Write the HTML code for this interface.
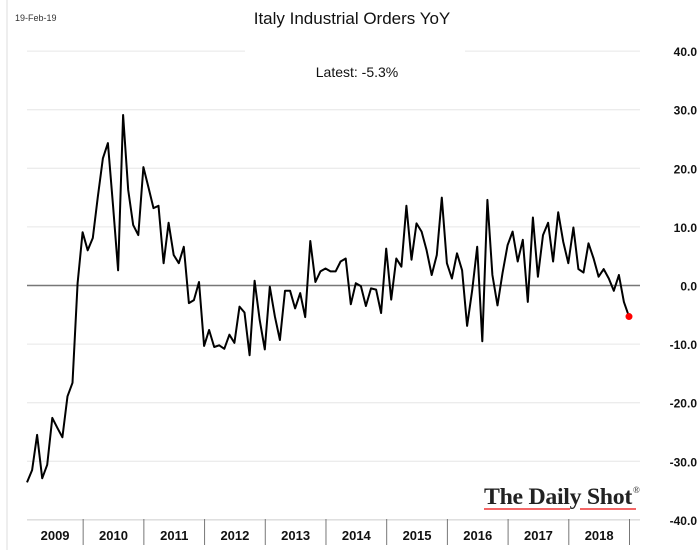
<!DOCTYPE html>
<html><head><meta charset="utf-8"><style>
html,body{margin:0;padding:0;background:#fff;}
svg{display:block;font-family:"Liberation Sans",sans-serif;}
</style></head><body>
<svg id="chart" width="700" height="550" viewBox="0 0 700 550">
<line x1="7" y1="0" x2="7" y2="550" stroke="#ddd" stroke-width="1"/>
<text x="15" y="21" font-size="9" fill="#333">19-Feb-19</text>
<text x="352" y="24" font-size="17" text-anchor="middle" fill="#111">Italy Industrial Orders YoY</text>
<text x="357" y="77" font-size="14" text-anchor="middle" fill="#111">Latest:  -5.3%</text>
<g id="grid"></g>
<g id="yticks"></g>
<g id="xaxis"></g>
<g id="series"></g>
<g>
<text x="484" y="504" font-family="Liberation Serif,serif" font-size="23" font-weight="bold" fill="#222" letter-spacing="-0.3" textLength="148" lengthAdjust="spacingAndGlyphs">The Daily Shot</text>
<text x="633" y="493" font-family="Liberation Serif,serif" font-size="9" fill="#222">®</text>
<line x1="484" y1="509" x2="570" y2="509" stroke="#e33" stroke-width="1.5"/>
<line x1="580" y1="509" x2="636" y2="509" stroke="#e33" stroke-width="1.5"/>
</g>
</svg>
<script>
const yTicks = [40, 30, 20, 10, 0, -10, -20, -30, -40];
const tickLabels = ["40.0","30.0","20.0","10.0","0.0","-10.0","-20.0","-30.0","-40.0"];
const years = ["2009","2010","2011","2012","2013","2014","2015","2016","2017","2018"];
const values = [-33.6,-31.5,-25.5,-32.9,-30.6,-22.6,-24.3,-25.9,-18.9,-16.6,0.4,9.1,6.0,8.1,15.1,21.7,24.3,13.7,2.6,29.1,16.3,10.3,8.6,20.2,16.8,13.2,13.6,3.8,10.7,5.2,3.8,6.6,-3.0,-2.5,0.6,-10.3,-7.6,-10.5,-10.2,
-10.8,-8.4,-9.8,-3.6,
-4.6,-11.9,0.8,-5.9,-10.9,-0.2,-5.3,-9.3,-0.9,-0.9,-3.9,-1.3,-5.4,7.6,0.6,2.4,2.9,2.4,2.4,4.1,4.6,-3.2,0.4,-0.1,-3.5,-0.5,-0.7,-4.7,6.3,-2.4,4.6,3.2,13.6,4.4,10.6,9.2,6.0,
1.8,5.2,15.0,3.8,1.2,5.5,2.6,-6.9,-0.8,6.6,-9.5,14.6,1.8,-3.4,2.1,6.9,9.2,4.1,7.8,-2.8,11.6,1.5,8.6,10.7,4.1,12.5,7.5,3.8,9.9,2.8,2.2,7.2,4.6,1.5,2.8,1.2,-0.9,1.8,-2.8,-5.3];

const NS="http://www.w3.org/2000/svg";
const X0=27, X1=629, Y0=285.5, PER=5.86;
function xs(m){return X0+m*(X1-X0)/(values.length-1);}
function ys(v){return Y0-v*PER;}
function mk(tag,attrs,parent){const e=document.createElementNS(NS,tag);for(const k in attrs)e.setAttribute(k,attrs[k]);parent.appendChild(e);return e;}
const grid=document.getElementById('grid'), yt=document.getElementById('yticks'), xa=document.getElementById('xaxis'), se=document.getElementById('series');
yTicks.forEach((t,i)=>{
  const y=ys(t);
  if(t===0){
    const l=mk('line',{x1:27,x2:640,y1:y,y2:y,stroke:'#777','stroke-width':1.5},grid);
    
    
  } else if(t===40){
    const a=mk('line',{x1:27,x2:245,y1:y,y2:y,stroke:'#e6e6e6','stroke-width':1},grid);
    
    
    const b=mk('line',{x1:465,x2:640,y1:y,y2:y,stroke:'#e6e6e6','stroke-width':1},grid);
    
    
  } else {
    const l=mk('line',{x1:27,x2:640,y1:y,y2:y,stroke:t===-40?'#ccc':'#e6e6e6','stroke-width':1},grid);
    
    
  }
  const tx=mk('text',{x:697,y:y+5,'font-size':12,'font-weight':'bold','text-anchor':'end',fill:'#111'},yt);
  tx.textContent=tickLabels[i];
  
  
});
years.forEach((yr,k)=>{
  const left=k===0?X0:xs(12*k-0.9);
  const right=xs(12*(k+1)-0.9);
  const s=mk('line',{x1:right,x2:right,y1:519,y2:545,stroke:'#777','stroke-width':1},xa);
  
  
  const t=mk('text',{x:(left+right)/2,y:540,'font-size':13,'font-weight':'bold','text-anchor':'middle',fill:'#111'},xa);
  t.textContent=yr;
  
  
});
const pts=values.map((v,i)=>xs(i).toFixed(1)+','+ys(v).toFixed(1)).join(' ');
const pl=mk('polyline',{points:pts,fill:'none',stroke:'#000','stroke-width':2,'stroke-linejoin':'round'},se);


const last=values.length-1;
const dot=mk('circle',{cx:xs(last),cy:ys(values[last]),r:3.5,fill:'#f00'},se);


</script>
</body></html>
